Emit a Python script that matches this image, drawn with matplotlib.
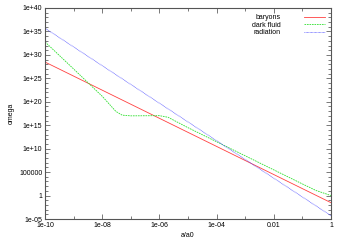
import matplotlib
matplotlib.use("Agg")
from matplotlib import pyplot as plt
from matplotlib.ticker import FixedLocator, FixedFormatter, NullFormatter

# Data (scale factor a/a0 vs omega)
a_baryons = [1e-10, 1e-8, 1e-6, 1e-4, 1e-2, 1]
omega_baryons = [3e28, 3e22, 3e16, 3e10, 3e4, 0.03]

a_radiation = [1e-10, 1e-8, 1e-6, 1e-4, 1e-2, 1]
omega_radiation = [5e35, 5e27, 5e19, 5e11, 5e3, 5e-5]

a_dark = [1e-10, 1e-9, 1e-8, 3e-8, 5e-8, 1e-7, 1e-6, 2e-6, 1e-5, 1e-4, 1e-3, 1e-2, 0.1, 0.3, 1]
omega_dark = [6e32, 1e27, 1.5e21, 9e17, 1.4e17, 1e17, 1.1e17, 5e16, 3e14, 3e11, 3e8, 3e5, 300, 12, 1]

x_ticks = [1e-10, 1e-8, 1e-6, 1e-4, 1e-2, 1]
x_labels = ["1e-10", "1e-08", "1e-06", "1e-04", "0.01", "1"]
x_minor = [1e-9, 1e-7, 1e-5, 1e-3, 1e-1]
y_ticks = [1e-5, 1, 1e5, 1e10, 1e15, 1e20, 1e25, 1e30, 1e35, 1e40]
y_labels = ["1e-05", "1", "100000", "1e+10", "1e+15", "1e+20", "1e+25", "1e+30", "1e+35", "1e+40"]
y_minor = [10.0 ** k for k in range(-5, 41) if k % 5 != 0]

plt.rcParams['font.family'] = ['Liberation Sans', 'DejaVu Sans']
plt.rcParams['font.size'] = 5

fig = plt.figure(figsize=(3.43, 2.40), dpi=100)
ax = fig.add_axes([45 / 343, 21 / 240, 286 / 343, 211 / 240])

ax.plot(a_baryons, omega_baryons, color='#ff4040', lw=0.6, label='baryons')
ax.plot(a_dark, omega_dark, color='#30e030', lw=0.6, dashes=(2, 1), label='dark fluid')
ax.plot(a_radiation, omega_radiation, color='#5050ff', lw=0.6, dashes=(0.8, 0.8), label='radiation')

ax.set_xscale('log')
ax.set_yscale('log')
ax.set_xlim(1e-10, 1)
ax.set_ylim(1e-5, 1e40)

ax.xaxis.set_major_locator(FixedLocator(x_ticks))
ax.xaxis.set_major_formatter(FixedFormatter(x_labels))
ax.xaxis.set_minor_locator(FixedLocator(x_minor))
ax.xaxis.set_minor_formatter(NullFormatter())
ax.yaxis.set_major_locator(FixedLocator(y_ticks))
ax.yaxis.set_major_formatter(FixedFormatter(y_labels))
ax.yaxis.set_minor_locator(FixedLocator(y_minor))
ax.yaxis.set_minor_formatter(NullFormatter())

ax.tick_params(which='both', direction='in', top=True, right=True, width=0.5, colors='#444444', labelcolor='black')
ax.tick_params(which='major', length=3.5, pad=2)
ax.tick_params(which='minor', length=2)
for s in ax.spines.values():
    s.set_linewidth(0.8)
    s.set_color('#555555')

ax.set_xlabel('a/a0', labelpad=2)
ax.set_ylabel('omega', labelpad=3)

ax.legend(loc='upper right', frameon=False, markerfirst=False, handlelength=3.0,
          handletextpad=3.4, labelspacing=0.05, borderaxespad=0.5, fontsize=5)

fig.savefig('out.png', dpi=100)
